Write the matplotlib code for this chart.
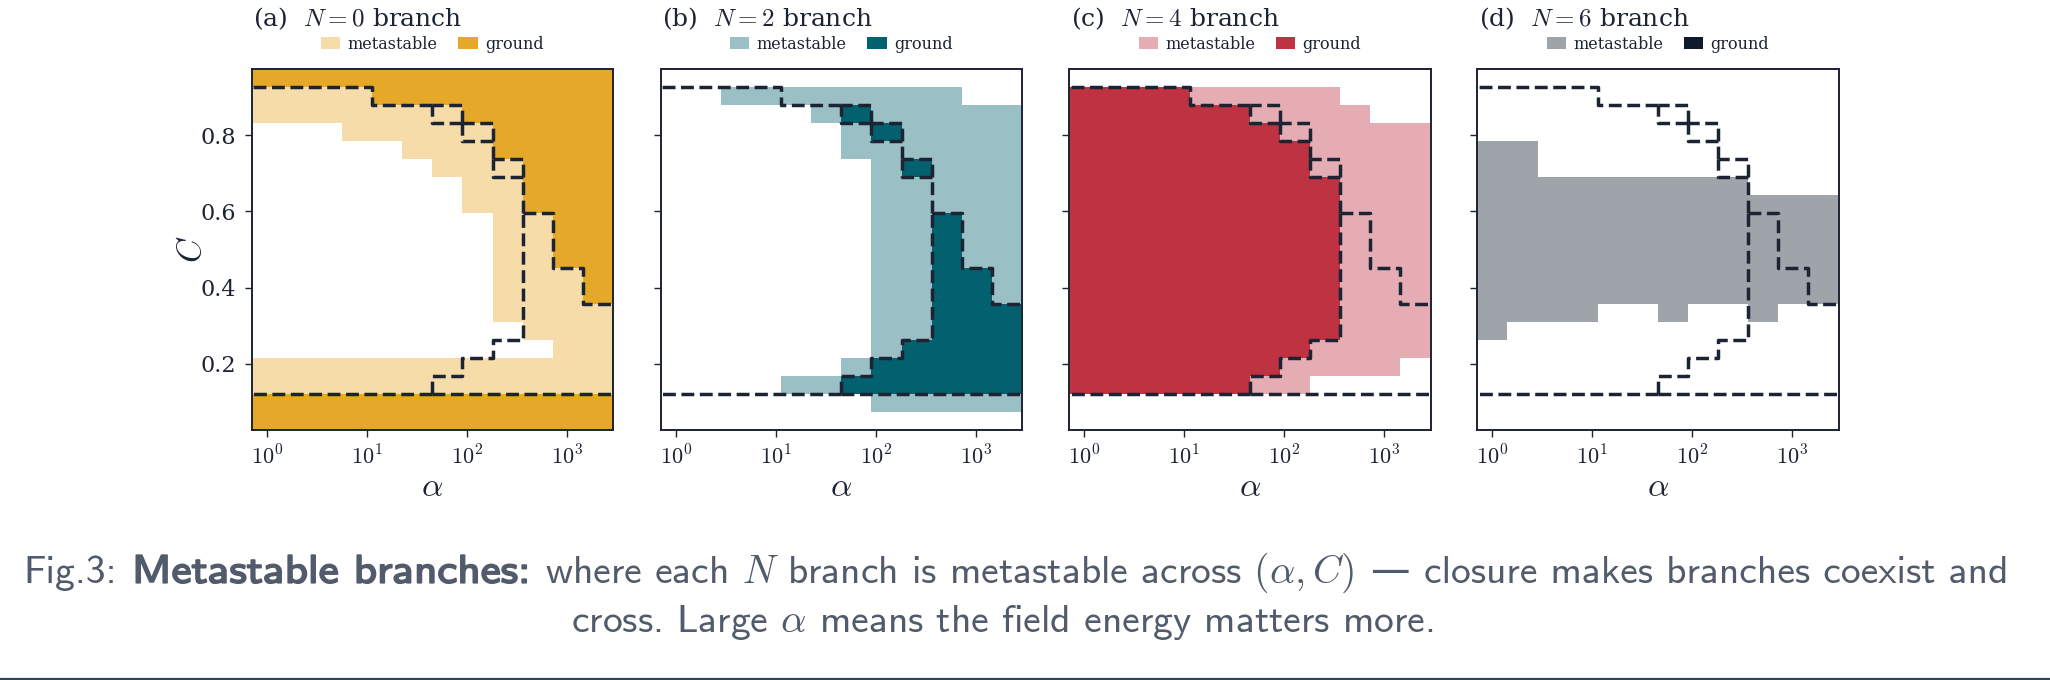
import matplotlib
matplotlib.use("Agg")
import matplotlib.pyplot as plt
import matplotlib.patheffects as pe
import numpy as np
from matplotlib.colors import ListedColormap, to_rgb
from matplotlib.patches import Patch
from matplotlib.lines import Line2D
from matplotlib.ticker import FixedLocator, FuncFormatter, NullLocator
from matplotlib.transforms import Affine2D

plt.rcParams['font.family'] = 'serif'
plt.rcParams['font.serif'] = ['DejaVu Serif']
plt.rcParams['mathtext.fontset'] = 'cm'

# Scan grid: alpha = 2^k, C at cell centres.
alpha_exp = np.arange(12)
c_values = np.linspace(0.05, 0.95, 20)

branches = [0, 2, 4, 6]
panel_tags = ['(a)', '(b)', '(c)', '(d)']
ground_colors = ['#e5a829', '#03606e', '#be3241', '#0f1b2d']

# Ground-state branch in every cell, top row (C = 0.95) first.
ground_rows = [
    "000000000000",
    "444400000000",
    "444444200000",
    "444444420000",
    "444444440000",
    "444444442000",
    "444444444000",
    "444444444000",
    "444444444200",
    "444444444200",
    "444444444200",
    "444444444220",
    "444444444220",
    "444444444222",
    "444444444222",
    "444444442222",
    "444444422222",
    "444444222222",
    "000000000000",
    "000000000000",
]

# Cells where each branch is (at least) metastable, top row first.
meta_rows = {
    0: ["............",
        "############",
        "############",
        "...#########",
        ".....#######",
        "......######",
        ".......#####",
        ".......#####",
        "........####",
        "........####",
        "........####",
        "........####",
        "........####",
        "........####",
        ".........###",
        "..........##",
        "############",
        "############",
        "............",
        "............"],
    2: ["............",
        "..########..",
        ".....#######",
        "......######",
        "......######",
        ".......#####",
        ".......#####",
        ".......#####",
        ".......#####",
        ".......#####",
        ".......#####",
        ".......#####",
        ".......#####",
        ".......#####",
        ".......#####",
        ".......#####",
        "......######",
        "....########",
        ".......#####",
        "............"],
    4: ["............",
        "#########...",
        "##########..",
        "############",
        "############",
        "############",
        "############",
        "############",
        "############",
        "############",
        "############",
        "############",
        "############",
        "############",
        "############",
        "############",
        "###########.",
        "########....",
        "............",
        "............"],
    6: ["............",
        "............",
        "............",
        "............",
        "##..........",
        "##..........",
        "#########...",
        "############",
        "############",
        "############",
        "############",
        "############",
        "############",
        "####..#..#..",
        "#...........",
        "............",
        "............",
        "............",
        "............",
        "............"],
}

caption_line1 = [("Fig.3:", 'plain'),
                 ("Metastable branches:", 'bold'),
                 (r"where each $N$ branch is metastable across $(\alpha, C)$", 'plain'),
                 ("—", 'dash'),
                 ("closure makes branches coexist and", 'plain')]
caption_line2 = r"cross. Large $\alpha$ means the field energy matters more."

ink = '#1c2333'
cap_color = '#515b6b'

# Cell edges.
x_edges = 2.0 ** (np.arange(len(alpha_exp) + 1) - 0.5)
dc = c_values[1] - c_values[0]
y_edges = np.append(c_values - dc / 2, c_values[-1] + dc / 2)

ground = np.array([[int(ch) for ch in r] for r in ground_rows[::-1]])


def lighten(color, a=0.4):
    rgb = np.array(to_rgb(color))
    return tuple(1 - a * (1 - rgb))


def boundary_paths(grid):
    """ Chains of cell edges that separate different ground states. """
    ny, nx = grid.shape
    nbrs = {}

    def link(a, b):
        nbrs.setdefault(a, []).append(b)
        nbrs.setdefault(b, []).append(a)

    for j in range(ny):
        for i in range(nx - 1):
            if grid[j, i] != grid[j, i + 1]:
                link((i + 1, j), (i + 1, j + 1))
    for j in range(ny - 1):
        for i in range(nx):
            if grid[j, i] != grid[j + 1, i]:
                link((i, j + 1), (i + 1, j + 1))

    used = set()
    paths = []
    starts = [n for n in nbrs if len(nbrs[n]) != 2] + list(nbrs)
    for s in starts:
        for nb in nbrs[s]:
            if frozenset((s, nb)) in used:
                continue
            used.add(frozenset((s, nb)))
            path = [s, nb]
            cur = nb
            while len(nbrs[cur]) == 2 and cur != s:
                nxt = [n for n in nbrs[cur] if frozenset((cur, n)) not in used]
                if not nxt:
                    break
                used.add(frozenset((cur, nxt[0])))
                path.append(nxt[0])
                cur = nxt[0]
            paths.append(path)
    return paths


class WideBold(pe.AbstractPathEffect):
    """ Stroke the glyphs and stretch them sideways about x0 (pixels). """

    def __init__(self, sx, lw, color):
        super().__init__()
        self.sx, self.lw, self.color = sx, lw, color
        self.x0 = 0.0

    def draw_path(self, renderer, gc, tpath, affine, rgbFace=None):
        stretch = Affine2D().translate(-self.x0, 0).scale(self.sx, 1).translate(self.x0, 0)
        gc0 = renderer.new_gc()
        gc0.copy_properties(gc)
        gc0.set_linewidth(self.lw)
        gc0.set_foreground(self.color)
        renderer.draw_path(gc0, tpath, affine + stretch, rgbFace)
        gc0.restore()


paths = boundary_paths(ground)

W, H = 2050, 680
fig = plt.figure(figsize=(W / 100, H / 100), dpi=100)

ax_left = [251.7, 660.7, 1069.3, 1477.3]
ax_w, ax_top, ax_bot = 361.3, 69, 430

for k, (N, tag, gcol) in enumerate(zip(branches, panel_tags, ground_colors)):
    ax = fig.add_axes([ax_left[k] / W, 1 - ax_bot / H, ax_w / W, (ax_bot - ax_top) / H])
    light = lighten(gcol)

    meta = np.array([[ch == '#' for ch in r] for r in meta_rows[N][::-1]])
    state = np.where(ground == N, 2, np.where(meta, 1, 0))
    state = np.ma.masked_equal(state, 0)

    ax.pcolormesh(x_edges, y_edges, state, cmap=ListedColormap([light, gcol]),
                  vmin=0.5, vmax=2.5, shading='flat', antialiased=False,
                  edgecolors='none', zorder=1)

    for p in paths:
        ax.plot(x_edges[[q[0] for q in p]], y_edges[[q[1] for q in p]],
                color=ink, lw=2.5, linestyle='--', zorder=3)

    ax.set_xscale('log')
    ax.set_xlim(x_edges[0], x_edges[-1])
    ax.set_ylim(y_edges[0], y_edges[-1])
    ax.xaxis.set_major_locator(FixedLocator([1, 10, 100, 1000]))
    ax.xaxis.set_minor_locator(NullLocator())
    ax.xaxis.set_major_formatter(FuncFormatter(lambda v, pos: r"$10^{%d}$" % round(np.log10(v))))
    ax.yaxis.set_major_locator(FixedLocator([0.2, 0.4, 0.6, 0.8]))
    if k > 0:
        ax.set_yticklabels([])
    else:
        ax.set_ylabel(r"$C$", fontsize=24, color=ink, labelpad=-5)
    ax.set_xlabel(r"$\alpha$", fontsize=24, color=ink, labelpad=1)
    ax.tick_params(length=5, width=1.0, colors=ink, labelsize=16, pad=6)
    for sp in ax.spines.values():
        sp.set_linewidth(1.4)
        sp.set_color(ink)
        sp.set_zorder(5)

    ax.text(0.004, 1 + 43 / 361, f"{tag}  $N={N}$ branch", transform=ax.transAxes,
            fontsize=18, color=ink, ha='left', va='baseline')
    handles = [Patch(facecolor=light, label='metastable'),
               Patch(facecolor=gcol, label='ground')]
    ax.legend(handles=handles, loc='center', bbox_to_anchor=(0.5, 1.069), ncol=2,
              frameon=False, fontsize=11.5, handlelength=1.2, handleheight=0.7,
              handletextpad=0.45, columnspacing=1.3, borderaxespad=0, labelcolor=ink)

# Caption, laid out piece by piece so the bold part can sit inline.
cap_size = 28.5
cap_family = ['cmss10', 'DejaVu Sans']
gap = 15
fig.canvas.draw()
renderer = fig.canvas.get_renderer()
wide = WideBold(1.14, 1.3, cap_color)
texts, widths = [], []
for s, style in caption_line1:
    fam = ['DejaVu Sans'] if style == 'dash' else cap_family
    t = fig.text(0, 1 - 582.7 / H, s, fontsize=cap_size, color=cap_color,
                 family=fam, va='baseline', ha='left')
    w = t.get_window_extent(renderer).width
    if style == 'bold':
        t.set_path_effects([wide])
        w *= wide.sx
    texts.append(t)
    widths.append(w)
x = 1016 - (sum(widths) + gap * (len(widths) - 1)) / 2
for t, w in zip(texts, widths):
    t.set_x(x / W)
    if t.get_path_effects():
        wide.x0 = x
    x += w + gap
fig.text(1002 / W, 1 - 631.7 / H, caption_line2, fontsize=cap_size, color=cap_color,
         family=cap_family, va='baseline', ha='center')

fig.add_artist(Line2D([0, 1], [1.5 / H, 1.5 / H], transform=fig.transFigure,
                      color='#2d4a52', lw=1.6))

fig.savefig("out.png", dpi=100)
